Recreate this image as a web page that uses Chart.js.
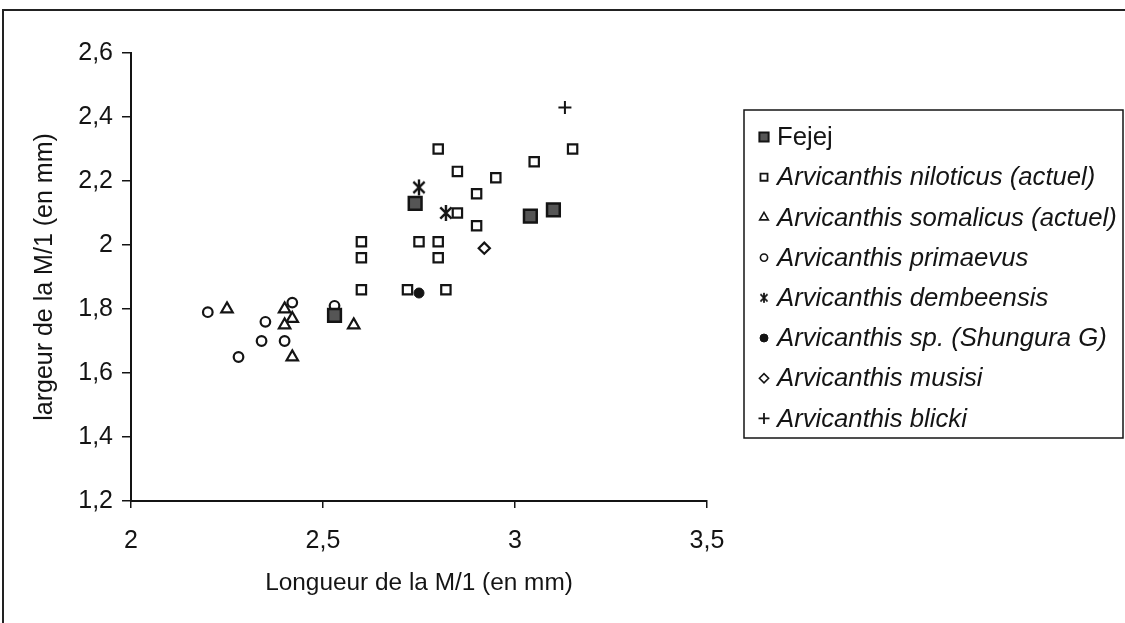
<!DOCTYPE html>
<html lang="fr">
<head>
<meta charset="utf-8">
<title>Arvicanthis - dimensions de la M/1</title>
<script src="https://cdn.jsdelivr.net/npm/chart.js@4.4.1/dist/chart.umd.min.js"></script>
<style>
  html, body { margin: 0; padding: 0; background: #fff; }
  #wrap { position: relative; width: 1125px; height: 623px; }
</style>
</head>
<body>
<div id="wrap"><canvas id="chart" width="1125" height="623"></canvas></div>
<script>
// === DATA: longueur (x) / largeur (y) de la M/1, en mm ===
const fejejX      = [2.74, 2.53, 3.04, 3.10];
const fejejY      = [2.13, 1.78, 2.09, 2.11];
const niloticusX  = [2.80, 3.15, 3.05, 2.85, 2.95, 2.90, 2.85, 2.90, 2.75, 2.80, 2.80, 2.72, 2.82, 2.60, 2.60, 2.60];
const niloticusY  = [2.30, 2.30, 2.26, 2.23, 2.21, 2.16, 2.10, 2.06, 2.01, 2.01, 1.96, 1.86, 1.86, 2.01, 1.96, 1.86];
const somalicusX  = [2.25, 2.40, 2.42, 2.40, 2.42, 2.58];
const somalicusY  = [1.80, 1.80, 1.77, 1.75, 1.65, 1.75];
const primaevusX  = [2.20, 2.42, 2.35, 2.34, 2.40, 2.28, 2.53];
const primaevusY  = [1.79, 1.82, 1.76, 1.70, 1.70, 1.65, 1.81];
const dembeensisX = [2.75, 2.82];
const dembeensisY = [2.18, 2.10];
const shunguraX   = [2.75];
const shunguraY   = [1.85];
const musisiX     = [2.92];
const musisiY     = [1.99];
const blickiX     = [3.13];
const blickiY     = [2.43];

const seriesLabels = [
    'Fejej',
    'Arvicanthis niloticus (actuel)',
    'Arvicanthis somalicus (actuel)',
    'Arvicanthis primaevus',
    'Arvicanthis dembeensis',
    'Arvicanthis sp. (Shungura G)',
    'Arvicanthis musisi',
    'Arvicanthis blicki'
];

const xTicks = [2, 2.5, 3, 3.5];
const yTicks = [1.2, 1.4, 1.6, 1.8, 2, 2.2, 2.4, 2.6];
const xTitle = 'Longueur de la M/1 (en mm)';
const yTitle = 'largeur de la M/1 (en mm)';

const INK = '#141414';
const FONT = '"Liberation Sans", Arial, sans-serif';

const pts = (xs, ys) => xs.map((x, i) => ({ x, y: ys[i] }));
const fmt = v => String(+Number(v).toFixed(1)).replace('.', ',');

// asterisk marker: vertical bar crossed by an X
function asterisk(size, lw) {
    const c = document.createElement('canvas');
    c.width = c.height = size;
    const g = c.getContext('2d');
    const m = size / 2, r = size / 2 - 1;
    const a = 45 * Math.PI / 180;
    const dx = Math.cos(a) * r, dy = Math.sin(a) * r;
    g.strokeStyle = INK;
    g.lineWidth = lw;
    g.beginPath();
    g.moveTo(m, m - r); g.lineTo(m, m + r);
    g.moveTo(m - dx, m - dy); g.lineTo(m + dx, m + dy);
    g.moveTo(m - dx, m + dy); g.lineTo(m + dx, m - dy);
    g.stroke();
    return c;
}
const starBig = asterisk(18, 2.4);
const starSmall = asterisk(12, 1.8);

// === FRAME + LEGEND ===
const framePlugin = {
    id: 'frame',
    beforeDraw(chart) {
        const ctx = chart.ctx;
        ctx.save();
        ctx.fillStyle = '#fff';
        ctx.fillRect(0, 0, chart.width, chart.height);
        ctx.strokeStyle = '#222';
        ctx.lineWidth = 2;
        ctx.beginPath();
        ctx.moveTo(3, chart.height);
        ctx.lineTo(3, 10);
        ctx.lineTo(chart.width, 10);
        ctx.stroke();
        ctx.restore();
    }
};

const legendPlugin = {
    id: 'legendBox',
    afterDraw(chart) {
        const ctx = chart.ctx;
        const left = 744, top = 110, w = 379, h = 328;
        ctx.save();
        ctx.strokeStyle = INK;
        ctx.lineWidth = 1.5;
        ctx.strokeRect(left, top, w, h);
        chart.data.datasets.forEach((ds, i) => {
            const y = 137 + i * 40.2;
            const mx = 764;
            ctx.fillStyle = ds.backgroundColor;
            ctx.strokeStyle = ds.borderColor;
            ctx.lineWidth = ds.legendBorder;
            if (ds.legendImage) {
                ctx.drawImage(ds.legendImage, mx - ds.legendImage.width / 2, y - ds.legendImage.height / 2);
            } else {
                Chart.helpers.drawPoint(ctx, {
                    pointStyle: ds.pointStyle, rotation: 0,
                    radius: ds.legendRadius, borderWidth: ds.legendBorder
                }, mx, y);
            }
            ctx.fillStyle = INK;
            ctx.textBaseline = 'middle';
            ctx.textAlign = 'left';
            ctx.font = (i === 0 ? '' : 'italic ') + '25.7px ' + FONT;
            ctx.fillText(ds.label, 777, y + 1);
        });
        ctx.restore();
    }
};

Chart.defaults.font.family = FONT;
Chart.defaults.color = INK;

const datasets = [
    { data: pts(fejejX, fejejY), pointStyle: 'rect', pointRadius: 9, borderWidth: 2.5,
      backgroundColor: '#555', borderColor: INK, order: 0, legendRadius: 6.5, legendBorder: 2 },
    { data: pts(niloticusX, niloticusY), pointStyle: 'rect', pointRadius: 6.6, borderWidth: 2.2,
      backgroundColor: '#fff', borderColor: INK, order: 2, legendRadius: 5, legendBorder: 1.8 },
    { data: pts(somalicusX, somalicusY), pointStyle: 'triangle', pointRadius: 6.6, borderWidth: 2.2,
      backgroundColor: '#fff', borderColor: INK, order: 3, legendRadius: 5, legendBorder: 1.6 },
    { data: pts(primaevusX, primaevusY), pointStyle: 'circle', pointRadius: 4.8, borderWidth: 2.2,
      backgroundColor: '#fff', borderColor: INK, order: 4, legendRadius: 3.6, legendBorder: 1.6 },
    { data: pts(dembeensisX, dembeensisY), pointStyle: starBig, pointRadius: 8,
      backgroundColor: INK, borderColor: INK, order: 5, legendImage: starSmall, legendBorder: 1.6 },
    { data: pts(shunguraX, shunguraY), pointStyle: 'circle', pointRadius: 5, borderWidth: 1,
      backgroundColor: INK, borderColor: INK, order: 1, legendRadius: 4, legendBorder: 1 },
    { data: pts(musisiX, musisiY), pointStyle: 'rectRot', pointRadius: 5.6, borderWidth: 2.2,
      backgroundColor: '#fff', borderColor: INK, order: 6, legendRadius: 4.6, legendBorder: 1.6 },
    { data: pts(blickiX, blickiY), pointStyle: 'cross', pointRadius: 6.5, borderWidth: 2,
      backgroundColor: INK, borderColor: INK, order: 7, legendRadius: 5.5, legendBorder: 1.8 }
];
datasets.forEach((ds, i) => {
    ds.label = seriesLabels[i];
    ds.pointHoverRadius = ds.pointRadius;
    ds.showLine = false;
});

new Chart(document.getElementById('chart'), {
    type: 'scatter',
    data: { datasets },
    options: {
        responsive: false,
        animation: false,
        devicePixelRatio: 1,
        layout: { padding: { left: 0, top: 53, right: 418, bottom: 0 } },
        plugins: { legend: { display: false }, tooltip: { enabled: false } },
        scales: {
            x: {
                type: 'linear', min: 2, max: 3.5,
                afterBuildTicks: s => { s.ticks = xTicks.map(v => ({ value: v })); },
                afterFit: s => { s.height = 122; },
                ticks: { padding: 18, font: { size: 25 }, callback: fmt, maxRotation: 0, autoSkip: false },
                grid: { drawOnChartArea: false, tickLength: 7, color: INK, lineWidth: 1.5 },
                border: { color: INK, width: 2 },
                title: { display: true, text: xTitle, font: { size: 24.4 }, padding: { top: 0, bottom: 25 } }
            },
            y: {
                type: 'linear', min: 1.2, max: 2.6,
                afterBuildTicks: s => { s.ticks = yTicks.map(v => ({ value: v })); },
                afterFit: s => { s.width = 131; },
                ticks: { padding: 9, font: { size: 25 }, callback: fmt, autoSkip: false },
                grid: { drawOnChartArea: false, tickLength: 9, color: INK, lineWidth: 1.5 },
                border: { color: INK, width: 2 },
                title: { display: true, text: yTitle, font: { size: 25 }, padding: { top: 30, bottom: 0 } }
            }
        }
    },
    plugins: [framePlugin, legendPlugin]
});
</script>
</body>
</html>
